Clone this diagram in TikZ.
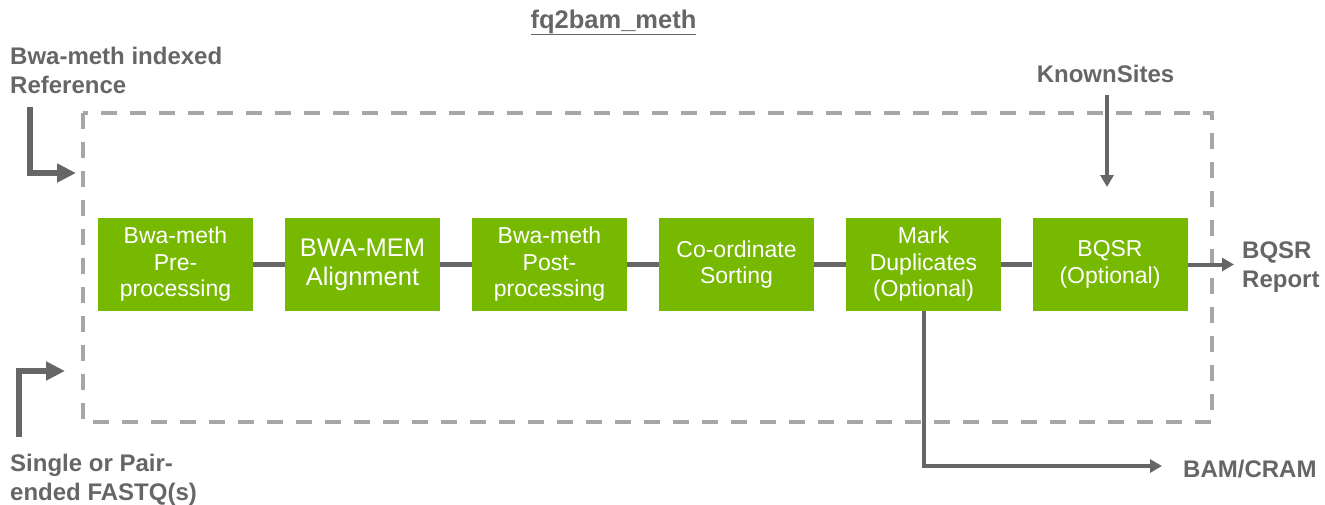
\documentclass[tikz,border=0pt]{standalone}
\usepackage{fontspec}
\setmainfont{Liberation Sans}
\usetikzlibrary{arrows.meta}
\definecolor{nvgreen}{HTML}{76B900}
\definecolor{dgray}{HTML}{666666}
\definecolor{lgray}{HTML}{A6A6A6}
\begin{document}
\begin{tikzpicture}[x=1pt,y=-1pt,
  stepbox/.style={fill=nvgreen, minimum width=155pt, minimum height=93pt, inner sep=0pt, text=white, align=center, font=\fontsize{23}{26.5}\selectfont},
  lbl/.style={text=dgray, font=\bfseries\fontsize{24}{29}\selectfont, inner sep=0pt, align=left},
  link/.style={draw=dgray, line width=4.5pt},
  thinarrow/.style={draw=dgray, line width=4pt, -{Triangle[length=12pt,width=13pt]}},
  bigarrow/.style={draw=dgray, line width=6pt, -{Triangle[length=19pt,width=18pt]}},
  frame/.style={draw=lgray, line width=4.5pt, dash pattern=on 16pt off 13pt}]
\useasboundingbox (0,0) rectangle (1325,504);

% dashed frame
\draw[frame] (83,113) rectangle (1212,422);

% title
\node[lbl, anchor=base, font=\bfseries\fontsize{25.5}{29}\selectfont] (title) at (613.5,28) {\underline{fq2bam\_meth}};

% steps
\node[stepbox] (b1) at (175.5,264.5) {Bwa-meth\\Pre-\\processing};
\node[stepbox, font=\fontsize{25.5}{29}\selectfont] (b2) at (362.5,264.5) {BWA-MEM\\Alignment};
\node[stepbox] (b3) at (549.5,264.5) {Bwa-meth\\Post-\\processing};
\node[stepbox] (b4) at (736.5,264.5) {Co-ordinate\\Sorting};
\node[stepbox] (b5) at (923.5,264.5) {Mark\\Duplicates\\(Optional)};
\node[stepbox] (b6) at (1110,264.5) {BQSR\\(Optional)};

\draw[link] (b1) -- (b2);
\draw[link] (b2) -- (b3);
\draw[link] (b3) -- (b4);
\draw[link] (b4) -- (b5);
\draw[link] (b5) -- (b6);

% outputs
\node[lbl, anchor=north west] (rep) at (1242,242) {BQSR\\Report};
\coordinate (repin) at (1234,264.5);
\draw[thinarrow] (b6.east) -- (repin);

\node[lbl, anchor=base west] (bam) at (1183,477) {BAM/CRAM};
\coordinate (bamin) at (1162,466);
\draw[thinarrow] (b5.south) |- (bamin);

% known sites
\node[lbl, anchor=north] (ks) at (1105.5,65) {KnownSites};
\coordinate (ksin) at (1107,187);
\draw[thinarrow, shorten <=12pt] (ks.south -| ksin) -- (ksin);

% inputs
\node[lbl, anchor=north west] (ref) at (10,47) {Bwa-meth indexed\\Reference};
\coordinate (refstart) at (30,107);
\coordinate (refin) at (76,173);
\draw[bigarrow] (refstart) |- (refin);

\node[lbl, anchor=north west] (fq) at (10,454) {Single or Pair-\\ended FASTQ(s)};
\coordinate (fqstart) at (19,437);
\coordinate (fqin) at (65,371);
\draw[bigarrow] (fqstart) |- (fqin);
\end{tikzpicture}
\end{document}
